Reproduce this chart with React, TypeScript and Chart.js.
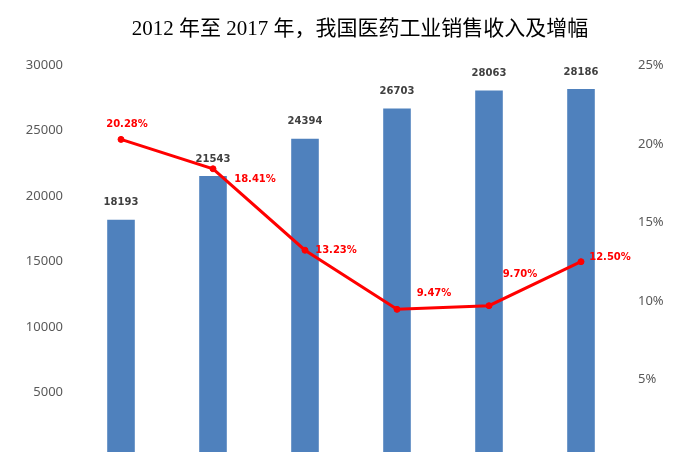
import React, { useEffect, useRef } from "react";
import { Chart, registerables } from "chart.js";

Chart.register(...registerables);

const years = ["2012", "2013", "2014", "2015", "2016", "2017"];
const revenue = [18193, 21543, 24394, 26703, 28063, 28186];
const growth = [20.28, 18.41, 13.23, 9.47, 9.7, 12.5];
const growthLabels = ["20.28%", "18.41%", "13.23%", "9.47%", "9.70%", "12.50%"];
const title = "2012 年至 2017 年，我国医药工业销售收入及增幅";

// label placement (style only): offset of label centre from point, px
const growthLabelOffsets = [
  [6, -15],
  [42, 11],
  [31, 0],
  [37, -16],
  [31, -31],
  [29, -4],
];

const labelPlugin = {
  id: "valueLabels",
  afterDatasetsDraw(chart: any) {
    const ctx = chart.ctx;
    ctx.save();
    ctx.textAlign = "center";
    ctx.textBaseline = "middle";
    const barMeta = chart.getDatasetMeta(1);
    ctx.font = "bold 10px 'DejaVu Sans'";
    ctx.fillStyle = "#404040";
    barMeta.data.forEach((el: any, i: number) => {
      ctx.fillText(String(revenue[i]), el.x, el.y - 17);
    });
    const lineMeta = chart.getDatasetMeta(0);
    ctx.fillStyle = "#ff0000";
    lineMeta.data.forEach((el: any, i: number) => {
      const [dx, dy] = growthLabelOffsets[i];
      ctx.fillText(growthLabels[i], el.x + dx, el.y + dy);
    });
    ctx.restore();
  },
};

export default function App() {
  const ref = useRef<HTMLCanvasElement | null>(null);
  useEffect(() => {
    if (!ref.current) return;
    const chart = new Chart(ref.current, {
      type: "bar",
      data: {
        labels: years,
        datasets: [
          {
            type: "line",
            label: "增幅",
            data: growth,
            yAxisID: "y1",
            borderColor: "#ff0000",
            backgroundColor: "#ff0000",
            borderWidth: 3,
            pointRadius: 3,
            pointBorderWidth: 1,
            pointBackgroundColor: "#ff0000",
            pointBorderColor: "#ff0000",
            tension: 0,
            order: 0,
          } as any,
          {
            type: "bar",
            label: "销售收入",
            data: revenue,
            yAxisID: "y",
            backgroundColor: "#4f81bd",
            categoryPercentage: 1,
            barPercentage: 0.3,
            order: 1,
          },
        ],
      },
      options: {
        responsive: true,
        maintainAspectRatio: false,
        animation: false,
        layout: { padding: { left: 22, right: 0, top: 0, bottom: 0 }, autoPadding: false },
        plugins: {
          legend: { display: false },
          tooltip: { enabled: false },
          title: {
            display: true,
            text: title,
            color: "#000000",
            font: { family: "'Liberation Serif', 'Noto Sans CJK SC', serif", size: 21, weight: "normal" },
            padding: { top: 17, bottom: 23 },
          },
        },
        scales: {
          x: { display: false },
          y: {
            position: "left",
            min: 0,
            max: 30000,
            grid: { display: false, drawTicks: false },
            border: { display: false },
            ticks: {
              stepSize: 5000,
              padding: 12,
              color: "#595959",
              font: { family: "'Noto Sans'", size: 13 },
              callback: (v: any) => (v === 0 ? "" : String(v)),
            },
            afterFit: (s: any) => {
              s.width = 53;
            },
          },
          y1: {
            position: "right",
            min: 0,
            max: 25,
            grid: { display: false, drawTicks: false },
            border: { display: false },
            ticks: {
              stepSize: 5,
              padding: 11,
              color: "#595959",
              font: { family: "'Noto Sans'", size: 13 },
              callback: (v: any) => (v === 0 ? "" : v + "%"),
            },
            afterFit: (s: any) => {
              s.width = 71;
            },
          },
        },
      },
      plugins: [labelPlugin],
    });
    return () => chart.destroy();
  }, []);
  return (
    <div style={{ position: "fixed", left: 0, top: 0, width: 698, height: 452, overflow: "hidden", background: "#fff" }}>
      <div style={{ position: "relative", width: 698, height: 478 }}>
        <canvas ref={ref} />
      </div>
    </div>
  );
}
